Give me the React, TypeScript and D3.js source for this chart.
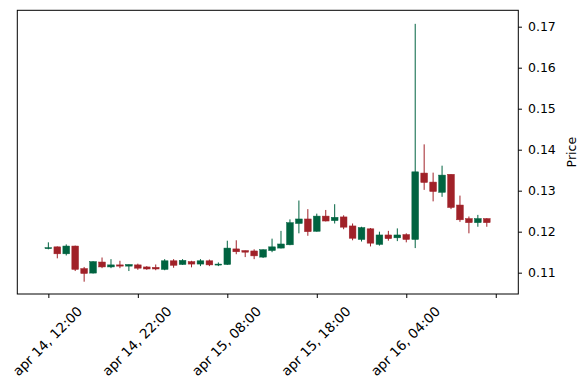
// @ts-nocheck
import React, { useEffect, useRef } from "react";
import { select, scaleLinear, axisRight, axisBottom } from "d3";

// hourly candles, apr 14 12:00 -> apr 16 13:00
const opens = [
  0.1159, 0.1163, 0.1146, 0.1165, 0.111, 0.1099, 0.1126, 0.1114, 0.1119, 0.1116,
  0.1119, 0.1114, 0.1113, 0.1108, 0.1129, 0.112, 0.1127, 0.1121, 0.1129, 0.1119,
  0.112, 0.1158, 0.1154, 0.1153, 0.1138, 0.1154, 0.116, 0.1168, 0.122, 0.1231,
  0.1201, 0.1238, 0.1227, 0.1236, 0.1214, 0.1181, 0.1207, 0.1169, 0.1192, 0.1185,
  0.1193, 0.1181, 0.1343, 0.1321, 0.1296, 0.134, 0.1265, 0.1232, 0.1222, 0.1232,
];
const highs = [
  0.1174, 0.1164, 0.1169, 0.1166, 0.1114, 0.1128, 0.1137, 0.1133, 0.1129, 0.112,
  0.1122, 0.1116, 0.112, 0.1133, 0.1133, 0.1133, 0.1129, 0.1133, 0.1132, 0.1125,
  0.1178, 0.1179, 0.1154, 0.1157, 0.1157, 0.1183, 0.1202, 0.123, 0.1276, 0.1255,
  0.1244, 0.1253, 0.1267, 0.124, 0.122, 0.1212, 0.1209, 0.12, 0.1202, 0.1208,
  0.1196, 0.1707, 0.1413, 0.1344, 0.1361, 0.134, 0.1288, 0.1237, 0.1241, 0.1233,
];
const lows = [
  0.1157, 0.1135, 0.1142, 0.1104, 0.1078, 0.1098, 0.1111, 0.1111, 0.1111, 0.1104,
  0.1107, 0.1107, 0.1106, 0.1106, 0.1112, 0.1119, 0.1113, 0.1116, 0.1116, 0.1116,
  0.1119, 0.1145, 0.1138, 0.1133, 0.1136, 0.115, 0.1159, 0.1167, 0.1196, 0.119,
  0.12, 0.1225, 0.122, 0.1206, 0.1179, 0.1176, 0.1164, 0.1166, 0.1178, 0.1177,
  0.1174, 0.116, 0.1302, 0.1274, 0.1285, 0.1255, 0.1224, 0.1196, 0.1212, 0.1212,
];
const closes = [
  0.1161, 0.1146, 0.1165, 0.1108, 0.1098, 0.1127, 0.1114, 0.1119, 0.1116, 0.112,
  0.1111, 0.1109, 0.1109, 0.1129, 0.1118, 0.113, 0.1121, 0.1129, 0.1119, 0.1121,
  0.116, 0.1151, 0.115, 0.1141, 0.1156, 0.1163, 0.117, 0.1222, 0.1231, 0.12,
  0.1238, 0.1226, 0.1235, 0.1211, 0.1184, 0.121, 0.1172, 0.1192, 0.1183, 0.1192,
  0.1181, 0.1346, 0.132, 0.1298, 0.1338, 0.1259, 0.1229, 0.1222, 0.1232, 0.1222,
];

const xTicks = [0, 10, 20, 30, 40, 50];
const xTickLabels = [
  "apr 14, 12:00",
  "apr 14, 22:00",
  "apr 15, 08:00",
  "apr 15, 18:00",
  "apr 16, 04:00",
  "",
];
const yTicks = [0.11, 0.12, 0.13, 0.14, 0.15, 0.16, 0.17];

const UP = "#006340";
const DOWN = "#a02128";

export default function App() {
  const ref = useRef(null);

  useEffect(() => {
    const width = 587;
    const height = 390;
    const margin = { top: 10.3, right: 68.7, bottom: 96, left: 17.3 };
    const w = width - margin.left - margin.right;
    const h = height - margin.top - margin.bottom;

    const root = select(ref.current);
    root.selectAll("*").remove();
    const svg = root
      .append("svg")
      .attr("width", width)
      .attr("height", height)
      .style("display", "block")
      .style("font-family", "DejaVu Sans");

    const g = svg
      .append("g")
      .attr("transform", `translate(${margin.left},${margin.top})`);

    const x = scaleLinear().domain([-3.47, 52.52]).range([0, w]);
    const y = scaleLinear().domain([0.1048, 0.174]).range([h, 0]);

    const data = opens.map((o, i) => ({
      i,
      o,
      h: highs[i],
      l: lows[i],
      c: closes[i],
    }));
    const col = (d) => (d.c >= d.o ? UP : DOWN);
    const bw = x(0.375) - x(0);

    // wicks
    g.selectAll("line.wick")
      .data(data)
      .enter()
      .append("line")
      .attr("class", "wick")
      .attr("x1", (d) => x(d.i))
      .attr("x2", (d) => x(d.i))
      .attr("y1", (d) => y(d.h))
      .attr("y2", (d) => y(d.l))
      .attr("stroke", col)
      .attr("stroke-width", 1);

    // bodies
    g.selectAll("rect.body")
      .data(data)
      .enter()
      .append("rect")
      .attr("class", "body")
      .attr("x", (d) => x(d.i) - bw)
      .attr("width", bw * 2)
      .attr("y", (d) => y(Math.max(d.o, d.c)))
      .attr("height", (d) => Math.max(1, Math.abs(y(d.o) - y(d.c))))
      .attr("fill", col)
      .attr("stroke", col)
      .attr("stroke-width", 0.5);

    // frame
    g.append("rect")
      .attr("width", w)
      .attr("height", h)
      .attr("fill", "none")
      .attr("stroke", "black")
      .attr("stroke-width", 1);

    // y axis on the right
    const ya = g
      .append("g")
      .attr("transform", `translate(${w},0)`)
      .call(
        axisRight(y)
          .tickValues(yTicks)
          .tickFormat((v) => v.toFixed(2))
          .tickSize(3.7)
          .tickPadding(6)
      );
    ya.select(".domain").remove();
    ya.selectAll("text")
      .attr("font-size", 12.5)
      .attr("font-family", "DejaVu Sans")
      .attr("fill", "black");

    // x axis
    const xa = g
      .append("g")
      .attr("transform", `translate(0,${h})`)
      .call(axisBottom(x).tickValues(xTicks).tickFormat("").tickSize(4));
    xa.select(".domain").remove();

    g.selectAll("text.xlab")
      .data(xTicks)
      .enter()
      .append("text")
      .attr("class", "xlab")
      .attr(
        "transform",
        (t) => `translate(${x(t) - 1},${h + 47}) rotate(-45)`
      )
      .attr("text-anchor", "middle")
      .attr("dominant-baseline", "central")
      .attr("font-size", 13.5)
      .attr("fill", "black")
      .text((t, i) => xTickLabels[i]);

    // y label
    g.append("text")
      .attr("transform", `translate(${w + 53},${h / 2}) rotate(-90)`)
      .attr("text-anchor", "middle")
      .attr("dominant-baseline", "central")
      .attr("font-size", 12.5)
      .attr("fill", "black")
      .text("Price");
  }, []);

  return <div ref={ref} style={{ margin: -8 }}></div>;
}
